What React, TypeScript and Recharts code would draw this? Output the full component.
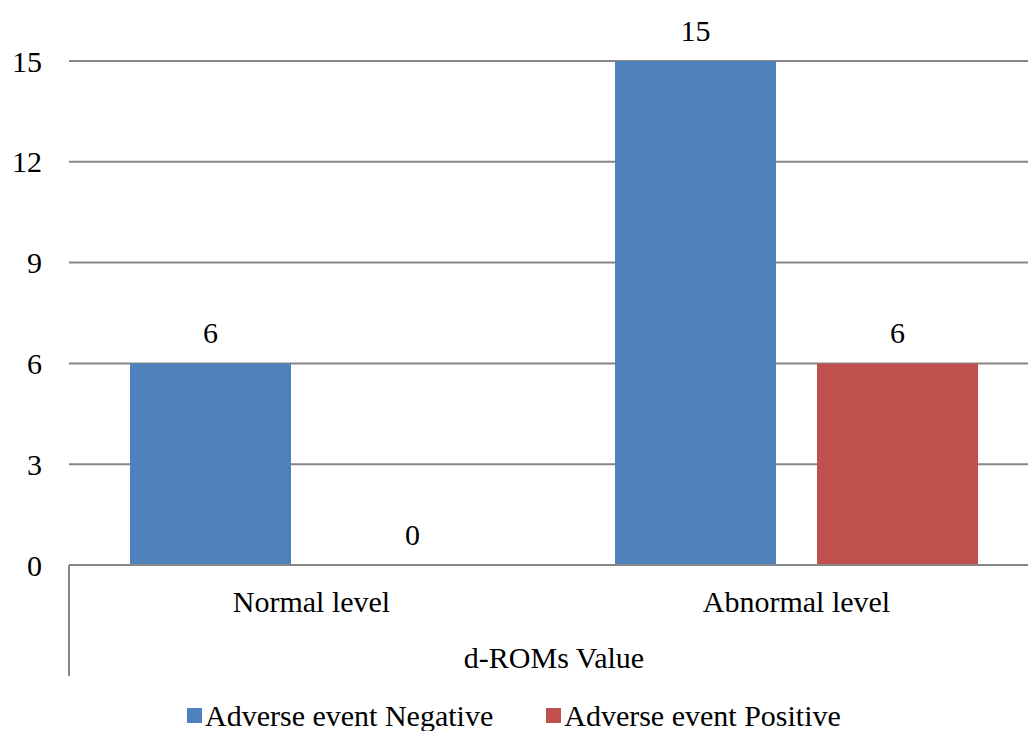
import { Bar, BarChart, CartesianGrid, LabelList, Legend, XAxis, YAxis } from "recharts";

const categories = ["Normal level", "Abnormal level"];
const negativeValues = [6, 15];
const positiveValues = [0, 6];
const yTicks = [0, 3, 6, 9, 12, 15];
const seriesNames = ["Adverse event Negative", "Adverse event Positive"];
const axisTitle = "d-ROMs Value";

const FONT = "Times New Roman, Liberation Serif, DejaVu Serif, serif";
const FS = 30;
const BLUE = "#4f81bd";
const RED = "#c0504d";
const GRID = "#868686";

const data = categories.map((name, i) => ({
  name,
  negative: negativeValues[i],
  positive: positiveValues[i],
}));

function AxisTitle({ viewBox }: any) {
  const { x, y, width } = viewBox;
  return (
    <g>
      <line x1={x} y1={y} x2={x} y2={y + 111} stroke={GRID} strokeWidth={2} />
      <text
        x={x + width / 2}
        y={y + 103}
        textAnchor="middle"
        style={{ fontFamily: FONT }}
        fontSize={FS}
        fill="#000"
      >
        {axisTitle}
      </text>
    </g>
  );
}

function ValueLabel(props: any) {
  const { x, y, width, height, value } = props;
  const top = Math.min(y, y + height);
  return (
    <text
      x={x + width / 2}
      y={Math.round(top) - 20}
      textAnchor="middle"
      style={{ fontFamily: FONT }}
      fontSize={FS}
      fill="#000"
    >
      {value}
    </text>
  );
}

function LegendBox() {
  const colors = [BLUE, RED];
  return (
    <div
      style={{
        display: "flex",
        alignItems: "center",
        height: 31,
        paddingLeft: 187,
        fontFamily: FONT,
        fontSize: FS,
        color: "#000",
      }}
    >
      {seriesNames.map((s, i) => (
        <div key={s} style={{ display: "flex", alignItems: "center", marginRight: 53 }}>
          <span style={{ width: 15, height: 15, background: colors[i], marginRight: 3, display: "inline-block" }} />
          <span style={{ lineHeight: "31px" }}>{s}</span>
        </div>
      ))}
    </div>
  );
}

export default function App() {
  return (
    <div style={{ position: "absolute", left: 0, top: 0, background: "#fff", fontFamily: FONT }}>
      <BarChart
        width={1028}
        height={731}
        data={data}
        margin={{ top: 61, right: -11, bottom: 0, left: 0 }}
        barCategoryGap={61}
        barGap={41}
        style={{ fontFamily: FONT }}
      >
        <CartesianGrid stroke={GRID} strokeWidth={2} vertical={false} />
        <Bar dataKey="negative" name={seriesNames[0]} fill={BLUE} isAnimationActive={false}>
          <LabelList dataKey="negative" content={<ValueLabel />} />
        </Bar>
        <Bar dataKey="positive" name={seriesNames[1]} fill={RED} minPointSize={0.5} isAnimationActive={false}>
          <LabelList dataKey="positive" content={<ValueLabel />} />
        </Bar>
        <XAxis
          dataKey="name"
          height={135}
          axisLine={{ stroke: GRID, strokeWidth: 2 }}
          tickLine={false}
          tickSize={0}
          tickMargin={26}
          tick={{ fontSize: FS, fill: "#000", style: { fontFamily: FONT } }}
          label={<AxisTitle />}
        />
        <YAxis
          width={69}
          domain={[0, 15]}
          ticks={yTicks}
          axisLine={false}
          tickLine={false}
          tickSize={0}
          tickMargin={27}
          tick={{ fontSize: FS, fill: "#000", style: { fontFamily: FONT } }}
        />
        <Legend verticalAlign="bottom" height={31} content={<LegendBox />} />
      </BarChart>
    </div>
  );
}
